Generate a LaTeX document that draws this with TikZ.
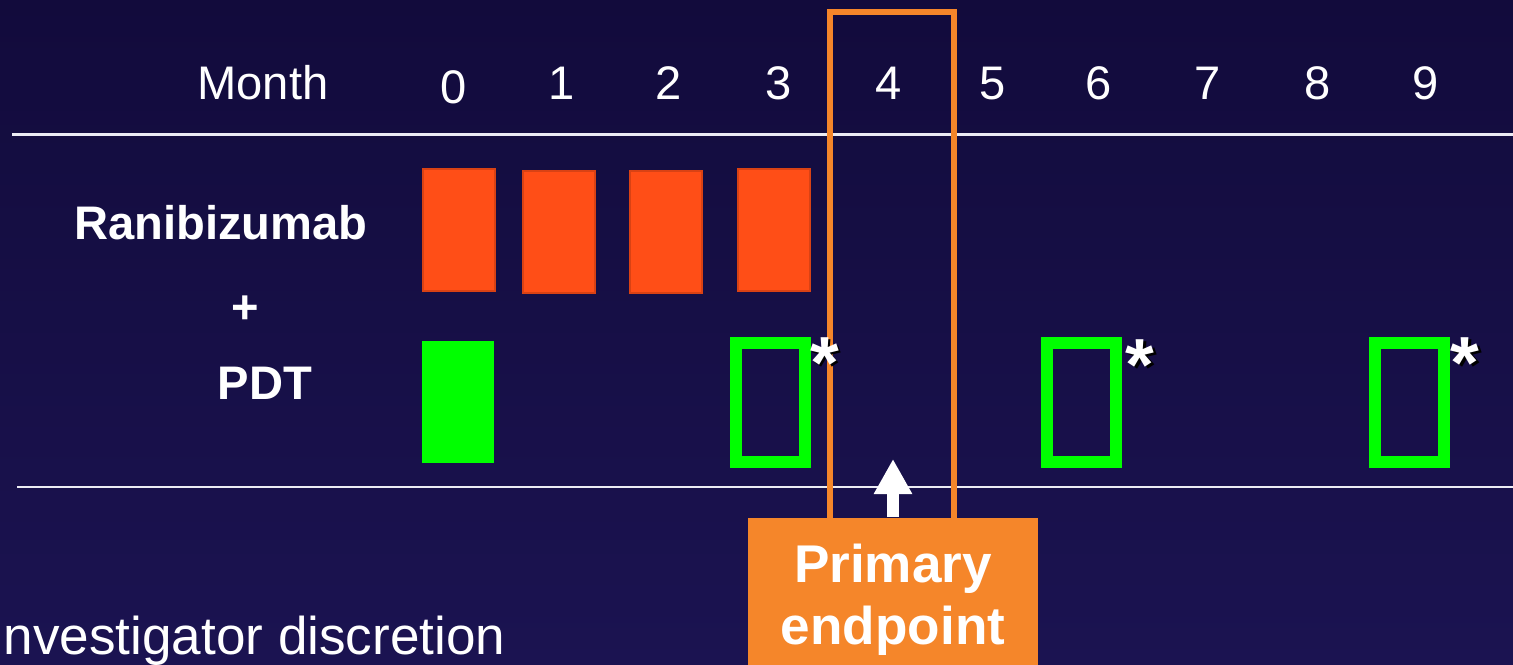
\documentclass[tikz,border=0pt]{standalone}
\usepackage{fontspec}
\setmainfont{Liberation Sans}
\usetikzlibrary{arrows.meta}
\definecolor{bgtop}{HTML}{120B3C}
\definecolor{bgbot}{HTML}{1B1351}
\definecolor{injred}{HTML}{FF4E17}
\definecolor{pdtgreen}{HTML}{00FF00}
\definecolor{endorange}{HTML}{F5862A}
\definecolor{rule}{HTML}{ECECF4}
\tikzset{
  txt/.style={text=white, inner sep=0pt, anchor=base,
    font=\fontsize{13.4pt}{16pt}\selectfont},
  bold/.style={txt, font=\fontsize{13.4pt}{16pt}\selectfont\bfseries},
  inj/.style={fill=injred, draw=injred!85!black, line width=0.3pt},
  pdtfull/.style={fill=pdtgreen},
  pdtopt/.style={draw=pdtgreen, line width=0.12cm},
  ast/.style={inner sep=0pt, anchor=base,
    font=\fontsize{21pt}{24pt}\selectfont\bfseries},
  hrule/.style={draw=rule, line width=0.022cm},
}
\newcommand{\optmark}[2]{%
  \node[ast, text=black] at (#1+2.5,#2+2.5) {*};
  \node[ast, text=white] at (#1,#2) {*};}
\begin{document}
\begin{tikzpicture}[x=0.01cm, y=-0.01cm]
  \useasboundingbox (0,0) rectangle (1513,664);
  \clip (0,0) rectangle (1513,664);
  \shade[top color=bgtop, bottom color=bgbot] (0,0) rectangle (1513,664);

  % header row
  \node[txt] (month) at (263,100) {Month};
  \foreach \m/\x/\y in {0/454/104, 1/562/100, 2/669/100, 3/779/100, 4/889/100,
                        5/993/100, 6/1099/100, 7/1208/100, 8/1318/100, 9/1426/100}
    \node[txt] (m\m) at (\x,\y) {\m};

  \draw[hrule] (12,134.5) -- (1513,134.5);
  \draw[hrule] (17,487) -- (1513,487);

  % treatment labels
  \node[bold] (rani) at (221,239) {Ranibizumab};
  \node[bold] (plus) at (245,323) {+};
  \node[bold] (pdt) at (265,399) {PDT};

  % monthly ranibizumab injections
  \path[inj] (423,169) rectangle (495,291);
  \path[inj] (523,171) rectangle (595,293);
  \path[inj] (630,171) rectangle (702,293);
  \path[inj] (738,169) rectangle (810,291);

  % PDT at baseline and optional retreatments
  \path[pdtfull] (422,341) rectangle (494,463);
  \draw[pdtopt] (736,343) rectangle (805,462);
  \draw[pdtopt] (1047,343) rectangle (1116,462);
  \draw[pdtopt] (1375,343) rectangle (1444,462);

  % primary endpoint window
  \draw[endorange, line width=0.06cm] (830,540) -- (830,12.5) -- (954,12.5) -- (954,540);
  \node[fill=endorange, inner sep=0pt, minimum width=2.9cm, minimum height=1.64cm,
        anchor=north, text=white, align=center,
        font=\fontsize{15.1pt}{17.4pt}\selectfont\bfseries] (pe) at (893,517)
        {Primary\\endpoint};
  \coordinate (petip) at (893,459);
  \draw[white, line width=0.12cm, -{Triangle[width=0.36cm, length=0.35cm]}]
    (pe.north) -- (petip);

  % retreatment at investigator discretion
  \optmark{824.5}{388}
  \optmark{1140}{390}
  \optmark{1465}{388}

  % footnote
  \node[txt, anchor=base west, font=\fontsize{15.1pt}{18pt}\selectfont] (foot) at (3,654)
    {nvestigator discretion};
\end{tikzpicture}
\end{document}
